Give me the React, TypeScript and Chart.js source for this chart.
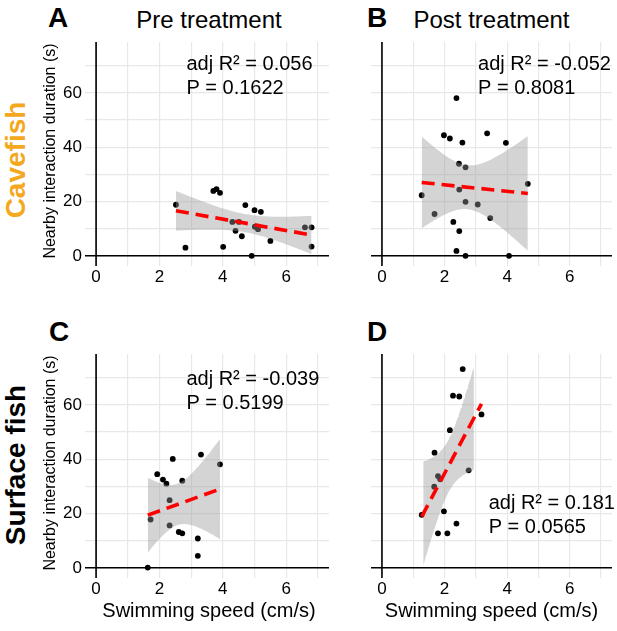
import React, { useEffect, useRef } from 'react';
import { Chart, registerables } from 'chart.js';

Chart.register(...registerables);

const FONT = '"Liberation Sans", Arial, Helvetica, sans-serif';

// ---------- data ----------
// A: Cavefish, pre treatment
const cavePreSpeed = [2.52, 2.82, 3.7, 3.8, 3.91, 4.01, 4.3, 4.4, 4.51, 4.6, 4.71, 4.91, 5.0, 5.01, 5.11, 5.2, 5.5, 6.59, 6.8, 6.8];
const cavePreDuration = [18.8, 3.0, 23.9, 24.6, 23.2, 3.3, 12.5, 9.2, 12.5, 7.2, 18.7, 0, 16.8, 10.7, 9.8, 16.2, 5.5, 10.5, 10.5, 3.4];
const cavePreStats = ['adj R\u00B2 = 0.056', 'P = 0.1622'];

// B: Cavefish, post treatment
const cavePostSpeed = [2.38, 1.98, 2.17, 2.57, 3.36, 3.96, 2.46, 2.67, 4.66, 1.27, 2.47, 2.67, 3.06, 1.68, 3.46, 2.28, 2.47, 2.38, 2.67, 4.06];
const cavePostDuration = [58.1, 44.4, 43.2, 41.7, 45.1, 41.6, 33.9, 32.6, 26.5, 22.3, 24.4, 19.9, 18.9, 15.4, 13.9, 12.5, 9.1, 1.8, 0, 0];
const cavePostStats = ['adj R\u00B2 = -0.052', 'P = 0.8081'];

// C: Surface fish, pre treatment
const surfPreSpeed = [1.63, 1.72, 1.93, 2.11, 2.22, 2.42, 2.72, 2.32, 2.32, 2.61, 2.72, 3.21, 3.21, 3.31, 3.91];
const surfPreDuration = [0.1, 17.8, 34.5, 32.5, 31.0, 40.1, 32.1, 24.9, 15.6, 13.2, 12.7, 10.8, 4.4, 41.7, 38.1];
const surfPreStats = ['adj R\u00B2 = -0.039', 'P = 0.5199'];

// D: Surface fish, post treatment
const surfPostSpeed = [2.58, 2.27, 2.47, 3.18, 2.17, 1.68, 2.77, 1.79, 1.86, 1.67, 1.27, 1.98, 2.38, 1.79, 2.09];
const surfPostDuration = [73.2, 63.4, 63.1, 56.5, 50.7, 42.4, 35.9, 33.8, 32.6, 29.9, 19.5, 20.8, 16.3, 12.7, 12.7];
const surfPostStats = ['adj R\u00B2 = 0.181', 'P = 0.0565'];

const xTickLabels = [0, 2, 4, 6];
const yTickLabels = [0, 20, 40, 60];
const yLimits = [0, 75];
const xLimits = [0, 7];

// two-sided 95% t critical values by degrees of freedom
const tCrit: Record<number, number> = {
  8: 2.306, 9: 2.262, 10: 2.228, 11: 2.201, 12: 2.179, 13: 2.16, 14: 2.145, 15: 2.131,
  16: 2.12, 17: 2.11, 18: 2.101, 19: 2.093, 20: 2.086, 21: 2.08, 22: 2.074,
};

function linearFit(xs: number[], ys: number[]) {
  const n = xs.length;
  const mx = xs.reduce((a, b) => a + b, 0) / n;
  const my = ys.reduce((a, b) => a + b, 0) / n;
  let sxx = 0, sxy = 0;
  for (let i = 0; i < n; i++) {
    sxx += (xs[i] - mx) ** 2;
    sxy += (xs[i] - mx) * (ys[i] - my);
  }
  const b = sxy / sxx;
  const a = my - b * mx;
  let sse = 0;
  for (let i = 0; i < n; i++) sse += (ys[i] - (a + b * xs[i])) ** 2;
  const s = Math.sqrt(sse / (n - 2));
  const t = tCrit[n - 2] ?? 2.1;
  const xmin = Math.min(...xs);
  const xmax = Math.max(...xs);
  const predict = (x: number) => a + b * x;
  const half = (x: number) => t * s * Math.sqrt(1 / n + (x - mx) ** 2 / sxx);
  const upper: { x: number; y: number }[] = [];
  const lower: { x: number; y: number }[] = [];
  const steps = 80;
  for (let k = 0; k < steps; k++) {
    const x = xmin + ((xmax - xmin) * k) / (steps - 1);
    const hi = predict(x) + half(x);
    const lo = predict(x) - half(x);
    if (hi <= yLimits[1] && lo >= yLimits[0]) {
      upper.push({ x, y: hi });
      lower.push({ x, y: lo });
    }
  }
  const line = [
    { x: xmin, y: predict(xmin) },
    { x: xmax, y: predict(xmax) },
  ];
  return { upper, lower, line };
}

type PanelCfg = {
  speed: number[];
  duration: number[];
  stats: string[];
  statsAt: { x: number; y: number };
  showY: boolean;
  left: number;
  top: number;
  width: number;
  yAxisWidth: number;
};

const PLOT_H = 228;
const XAXIS_H = 22;

const noPad = (s: any) => {
  s.paddingTop = 0;
  s.paddingBottom = 0;
  s.paddingLeft = 0;
  s.paddingRight = 0;
};

function Panel({ cfg }: { cfg: PanelCfg }) {
  const ref = useRef<HTMLCanvasElement>(null);
  useEffect(() => {
    if (!ref.current) return;
    const fit = linearFit(cfg.speed, cfg.duration);
    const pts = cfg.speed.map((x, i) => ({ x, y: cfg.duration[i] }));
    const xPad = (xLimits[1] - xLimits[0]) * 0.05;
    const yPad = (yLimits[1] - yLimits[0]) * 0.05;

    const annot = {
      id: 'annot',
      beforeDatasetsDraw(chart: any) {
        const { ctx, chartArea, scales } = chart;
        const x0 = scales.x.getPixelForValue(0);
        const y0 = scales.y.getPixelForValue(0);
        ctx.save();
        ctx.strokeStyle = '#000';
        ctx.lineWidth = 1.6;
        ctx.beginPath();
        ctx.moveTo(chartArea.left, y0);
        ctx.lineTo(chartArea.right, y0);
        ctx.moveTo(x0, chartArea.top);
        ctx.lineTo(x0, chartArea.bottom);
        ctx.stroke();
        ctx.restore();
      },
      afterDatasetsDraw(chart: any) {
        const { ctx, scales } = chart;
        const px = scales.x.getPixelForValue(cfg.statsAt.x);
        const py = scales.y.getPixelForValue(cfg.statsAt.y);
        ctx.save();
        ctx.fillStyle = '#000';
        ctx.font = `20px ${FONT}`;
        ctx.textAlign = 'left';
        ctx.textBaseline = 'alphabetic';
        cfg.stats.forEach((s, i) => ctx.fillText(s, px, py + i * 24));
        ctx.restore();
      },
    };

    const chart = new Chart(ref.current, {
      type: 'scatter',
      data: {
        datasets: [
          {
            data: fit.line,
            showLine: true,
            borderColor: '#ff0000',
            borderWidth: 3.6,
            borderDash: [13, 7],
            pointRadius: 0,
            order: 1,
          } as any,
          {
            data: fit.upper,
            showLine: true,
            borderWidth: 0,
            borderColor: 'rgba(0,0,0,0)',
            backgroundColor: 'rgba(153,153,153,0.42)',
            pointRadius: 0,
            fill: '+1',
            order: 2,
          },
          {
            data: fit.lower,
            showLine: true,
            borderWidth: 0,
            borderColor: 'rgba(0,0,0,0)',
            pointRadius: 0,
            fill: false,
            order: 2,
          },
          {
            data: pts,
            pointRadius: 2.9,
            pointBackgroundColor: '#000',
            pointBorderWidth: 0,
            order: 3,
          },
        ],
      },
      options: {
        responsive: false,
        animation: false,
        layout: { padding: 0 },
        events: [],
        plugins: {
          legend: { display: false },
          tooltip: { enabled: false },
        },
        scales: {
          x: {
            type: 'linear',
            min: xLimits[0] - xPad,
            max: xLimits[1] + xPad,
            border: { display: false },
            grid: { color: '#e8e8e8', lineWidth: 1.2, drawTicks: false },
            ticks: {
              stepSize: 1,
              includeBounds: false,
              autoSkip: false,
              maxRotation: 0,
              padding: 1,
              color: '#000',
              font: { family: FONT, size: 17 },
              callback: (v: any) => (xTickLabels.includes(Number(v)) ? String(v) : ''),
            },
            afterFit: (s: any) => {
              s.height = XAXIS_H;
              noPad(s);
            },
          },
          y: {
            type: 'linear',
            min: yLimits[0] - yPad,
            max: yLimits[1] + yPad,
            border: { display: false },
            grid: { color: '#e8e8e8', lineWidth: 1.2, drawTicks: false },
            ticks: {
              display: cfg.showY,
              stepSize: 10,
              includeBounds: false,
              autoSkip: false,
              padding: 3,
              color: '#000',
              font: { family: FONT, size: 17 },
              callback: (v: any) => (yTickLabels.includes(Number(v)) ? String(v) : ''),
            },
            afterFit: (s: any) => {
              s.width = cfg.yAxisWidth;
              noPad(s);
            },
          },
        },
      } as any,
      plugins: [annot],
    });
    return () => chart.destroy();
  }, []);
  const h = PLOT_H + XAXIS_H;
  return (
    <canvas
      ref={ref}
      width={cfg.width}
      height={h}
      style={{ position: 'absolute', left: cfg.left, top: cfg.top, width: cfg.width, height: h }}
    />
  );
}

const LEFT_X = 55;
const LEFT_W = 278;
const LEFT_YW = 30;
const RIGHT_X = 367;
const RIGHT_W = 249;
const TOP_Y = 38;
const BOT_Y = 350;

const panels: PanelCfg[] = [
  { speed: cavePreSpeed, duration: cavePreDuration, stats: cavePreStats, statsAt: { x: 2.85, y: 68.3 }, showY: true, left: LEFT_X, top: TOP_Y, width: LEFT_W, yAxisWidth: LEFT_YW },
  { speed: cavePostSpeed, duration: cavePostDuration, stats: cavePostStats, statsAt: { x: 3.07, y: 68.3 }, showY: false, left: RIGHT_X, top: TOP_Y, width: RIGHT_W, yAxisWidth: 0 },
  { speed: surfPreSpeed, duration: surfPreDuration, stats: surfPreStats, statsAt: { x: 2.85, y: 67.4 }, showY: true, left: LEFT_X, top: BOT_Y, width: LEFT_W, yAxisWidth: LEFT_YW },
  { speed: surfPostSpeed, duration: surfPostDuration, stats: surfPostStats, statsAt: { x: 3.41, y: 21.7 }, showY: false, left: RIGHT_X, top: BOT_Y, width: RIGHT_W, yAxisWidth: 0 },
];

const abs = (s: React.CSSProperties): React.CSSProperties => ({ position: 'absolute', whiteSpace: 'nowrap', ...s });

export default function App() {
  const plotL = LEFT_X + LEFT_YW;
  const plotLW = LEFT_W - LEFT_YW;
  return (
    <div
      style={{
        position: 'fixed',
        left: 0,
        top: 0,
        width: 617,
        height: 631,
        background: '#fff',
        fontFamily: FONT,
        color: '#000',
        overflow: 'hidden',
      }}
    >
      {panels.map((p, i) => (
        <Panel key={i} cfg={p} />
      ))}

      {/* panel letters */}
      {[
        ['A', 48, 4],
        ['B', RIGHT_X, 4],
        ['C', 49, 318],
        ['D', RIGHT_X, 318],
      ].map(([t, l, tp]) => (
        <div key={t as string} style={abs({ left: l as number, top: tp as number, fontSize: 28, lineHeight: '28px', fontWeight: 'bold' })}>
          {t}
        </div>
      ))}

      {/* column titles */}
      <div style={abs({ left: plotL, top: 8, width: plotLW, textAlign: 'center', fontSize: 24, lineHeight: '24px' })}>Pre treatment</div>
      <div style={abs({ left: RIGHT_X, top: 8, width: RIGHT_W, textAlign: 'center', fontSize: 24, lineHeight: '24px' })}>Post treatment</div>

      {/* row labels */}
      <div style={abs({ left: 16, top: 160, fontSize: 28, lineHeight: '28px', fontWeight: 'bold', color: '#f4a81d', transform: 'translate(-50%,-50%) rotate(-90deg)' })}>
        Cavefish
      </div>
      <div style={abs({ left: 16, top: 465, fontSize: 28, lineHeight: '28px', fontWeight: 'bold', transform: 'translate(-50%,-50%) rotate(-90deg)' })}>
        Surface fish
      </div>

      {/* y axis titles */}
      {[TOP_Y, BOT_Y].map((t) => (
        <div key={t} style={abs({ left: 50, top: t + PLOT_H / 2 - 1, fontSize: 16, lineHeight: '16px', transform: 'translate(-50%,-50%) rotate(-90deg)' })}>
          Nearby interaction duration (s)
        </div>
      ))}

      {/* x axis titles */}
      <div style={abs({ left: plotL, top: 600, width: plotLW, textAlign: 'center', fontSize: 20, lineHeight: '20px' })}>Swimming speed (cm/s)</div>
      <div style={abs({ left: RIGHT_X, top: 600, width: RIGHT_W, textAlign: 'center', fontSize: 20, lineHeight: '20px' })}>Swimming speed (cm/s)</div>
    </div>
  );
}
